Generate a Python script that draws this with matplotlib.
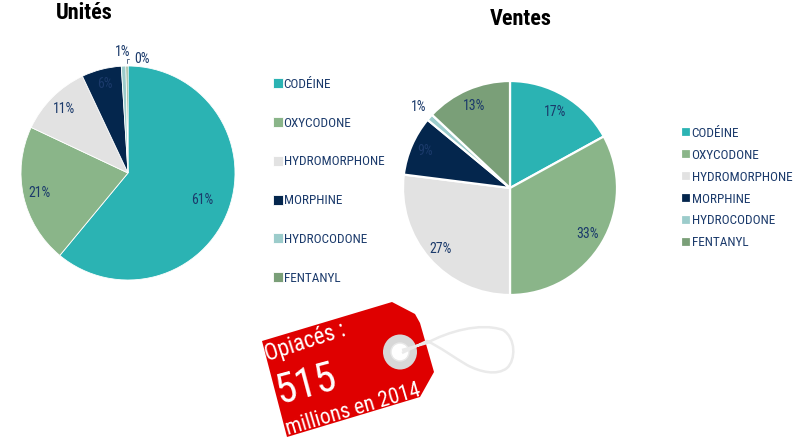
import matplotlib
matplotlib.use("Agg")
import matplotlib.pyplot as plt
import numpy as np
from matplotlib.patches import Circle, Ellipse, PathPatch, Polygon
from matplotlib.path import Path

plt.rcParams['font.family'] = ['Roboto Condensed', 'Liberation Sans', 'DejaVu Sans']

W, H = 800, 443

categories = ["CODÉINE", "OXYCODONE", "HYDROMORPHONE", "MORPHINE", "HYDROCODONE", "FENTANYL"]
units = [61, 21, 11, 6, 0.7, 0.3]
sales = [17, 33, 27, 9, 1, 13]
colors = ["#2BB3B3", "#8AB589", "#E2E2E2", "#04264D", "#9CCCCB", "#7A9F78"]
text_col = "#1B3A6B"


def pie_axes(cx, cy, r):
    ax = fig.add_axes([(cx - r) / W, 1 - (cy + r) / H, 2 * r / W, 2 * r / H])
    ax.set_aspect("equal")
    return ax


def draw_pie(ax, values, label_r, edge):
    wedges, _ = ax.pie(values, colors=colors, startangle=90, counterclock=False, radius=1,
                       wedgeprops={"edgecolor": "white", "linewidth": edge})
    ax.set_xlim(-1, 1)
    ax.set_ylim(-1, 1)
    for w, v, r in zip(wedges, values, label_r):
        if r is None:
            continue
        a = np.deg2rad((w.theta1 + w.theta2) / 2)
        ax.text(r * np.cos(a), r * np.sin(a), f"{v:.0f}%", color=text_col, fontsize=10,
                ha="center", va="center", clip_on=False)
    return wedges


fig = plt.figure(figsize=(W / 100, H / 100), dpi=100, facecolor="white")

# left pie
ax1 = pie_axes(128, 173, 107)
w1 = draw_pie(ax1, units, [0.74, 0.85, 0.84, 0.86, 1.13, None], 0.6)
ax1.annotate("0%", xy=(-0.01, 1.0), xytext=(0.13, 1.07), color=text_col, fontsize=10,
             ha="center", va="center",
             arrowprops={"arrowstyle": "-", "color": "#5A6E8C", "lw": 0.7,
                         "connectionstyle": "angle,angleA=0,angleB=90"})
fig.legend(w1, categories, loc="upper left", bbox_to_anchor=(273 / W, 1 - 78 / H), frameon=False,
           fontsize=9.5, labelcolor=text_col, handlelength=0.75, handleheight=0.8, handletextpad=0.05,
           labelspacing=1.95, borderpad=0, borderaxespad=0)

# right pie
ax2 = pie_axes(510, 188, 107)
w2 = draw_pie(ax2, sales, [0.82, 0.84, 0.86, 0.87, 1.14, 0.84], 1.6)
fig.legend(w2, categories, loc="upper left", bbox_to_anchor=(681 / W, 1 - 127 / H), frameon=False,
           fontsize=9.5, labelcolor=text_col, handlelength=0.75, handleheight=0.8, handletextpad=0.05,
           labelspacing=0.67, borderpad=0, borderaxespad=0)

fig.text(84 / W, 1 - 13 / H, "Unités", fontsize=16, fontweight="bold", color="black",
         ha="center", va="center")
fig.text(521 / W, 1 - 19 / H, "Ventes", fontsize=16, fontweight="bold", color="black",
         ha="center", va="center")

# price tag, drawn in pixel coordinates
tag = fig.add_axes([0, 0, 1, 1], facecolor="none")
tag.set_xlim(0, W)
tag.set_ylim(H, 0)
tag.axis("off")

tag.add_patch(Polygon([(262, 341), (392, 302), (415, 314), (420, 323), (434, 372), (420, 397), (287, 437)],
                      closed=True, facecolor="#DF0000", edgecolor="none", zorder=2))
tag.add_patch(Ellipse((400, 352), 34, 35, facecolor="#D8D8D8", edgecolor="none", zorder=3))
tag.add_patch(Circle((400, 352), 9, facecolor="white", edgecolor="#E8E8E8", lw=1, zorder=4))

string = Path([(402, 350), (427, 343),
               (447, 332), (480, 322), (503, 330),
               (516, 338), (516, 360), (507, 368),
               (497, 376), (480, 372), (467, 365),
               (455, 358), (440, 347), (427, 341), (402, 353)],
              [Path.MOVETO, Path.LINETO,
               Path.CURVE4, Path.CURVE4, Path.CURVE4,
               Path.CURVE4, Path.CURVE4, Path.CURVE4,
               Path.CURVE4, Path.CURVE4, Path.CURVE4,
               Path.CURVE4, Path.CURVE4, Path.CURVE4,
               Path.LINETO])
tag.add_patch(PathPatch(string, facecolor="none", edgecolor="#EAEAEA", lw=1.8, zorder=5))

tag.text(267, 361, "Opiacés :", color="white", fontsize=16.5, rotation=18, rotation_mode="anchor",
         ha="left", va="baseline", zorder=6)
tag.text(279, 404, "515", color="white", fontsize=30, rotation=15, rotation_mode="anchor",
         ha="left", va="baseline", zorder=6)
tag.text(288, 435, "millions en 2014", color="white", fontsize=15.5, rotation=16.5, rotation_mode="anchor",
         ha="left", va="baseline", zorder=6)

fig.savefig("out.png", dpi=100)
